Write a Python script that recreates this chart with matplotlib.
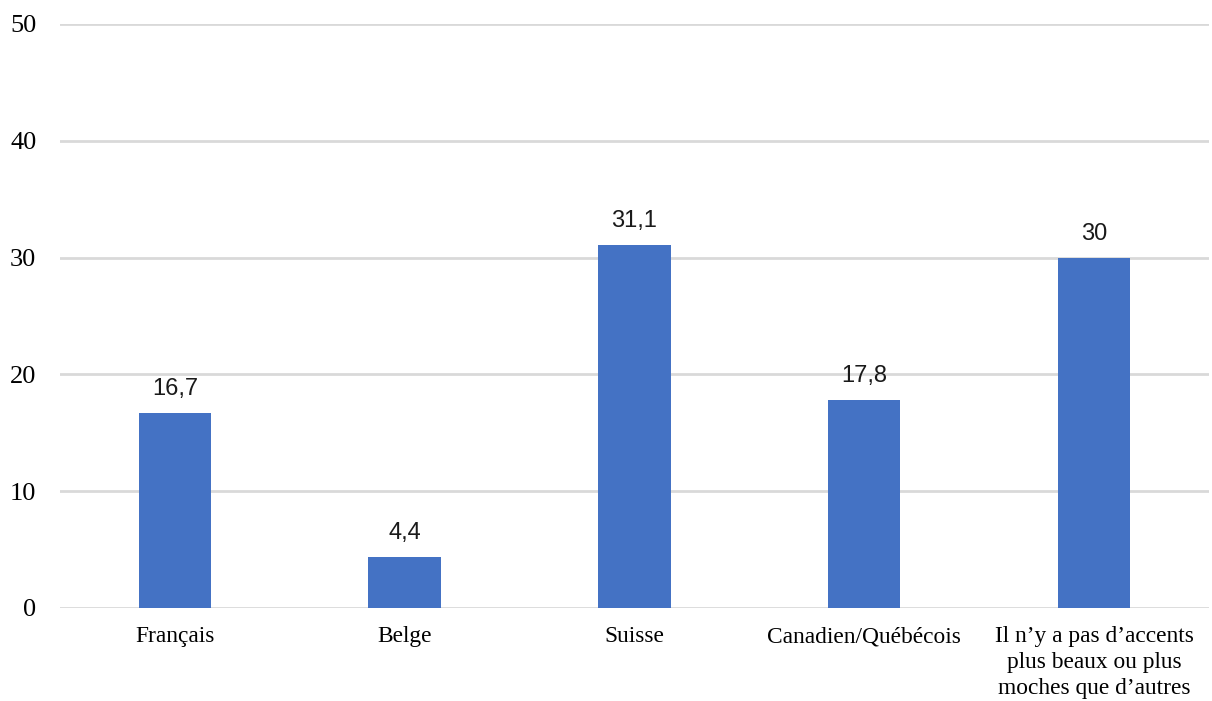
import matplotlib
matplotlib.use('Agg')
import matplotlib.pyplot as plt

categories = ['Français', 'Belge', 'Suisse', 'Canadien/Québécois',
              "Il n’y a pas d’accents\nplus beaux ou plus\nmoches que d’autres"]
values = [16.7, 4.4, 31.1, 17.8, 30]
value_labels = ['16,7', '4,4', '31,1', '17,8', '30']
y_ticks = [0, 10, 20, 30, 40, 50]

fig = plt.figure(figsize=(12.12, 7.01), dpi=100)
ax = fig.add_axes([0.0495, 0.1327, 0.948, 0.8331])

x = list(range(len(categories)))
bars = ax.bar(x, values, width=0.315, color='#4472C4', zorder=3)

for b, lab in zip(bars, value_labels):
    ax.text(b.get_x() + b.get_width() / 2, b.get_height() + 1.1, lab,
            ha='center', va='bottom', fontsize=17, family='Liberation Sans',
            color='#1a1a1a')

ax.set_xlim(-0.5, len(categories) - 0.5)
ax.set_ylim(0, 50)
ax.set_yticks(y_ticks)
ax.set_yticklabels([str(t) for t in y_ticks], family='Liberation Serif', fontsize=19)
ax.set_xticks(x)
ax.set_xticklabels(categories, family='Liberation Serif', fontsize=16.8, linespacing=1.3)
ax.grid(axis='y', color='#D9D9D9', linewidth=2, zorder=0)
ax.tick_params(axis='both', length=0)
ax.tick_params(axis='y', pad=17)
ax.tick_params(axis='x', pad=13)
for s in ax.spines.values():
    s.set_visible(False)

fig.savefig('out.png', dpi=100)
